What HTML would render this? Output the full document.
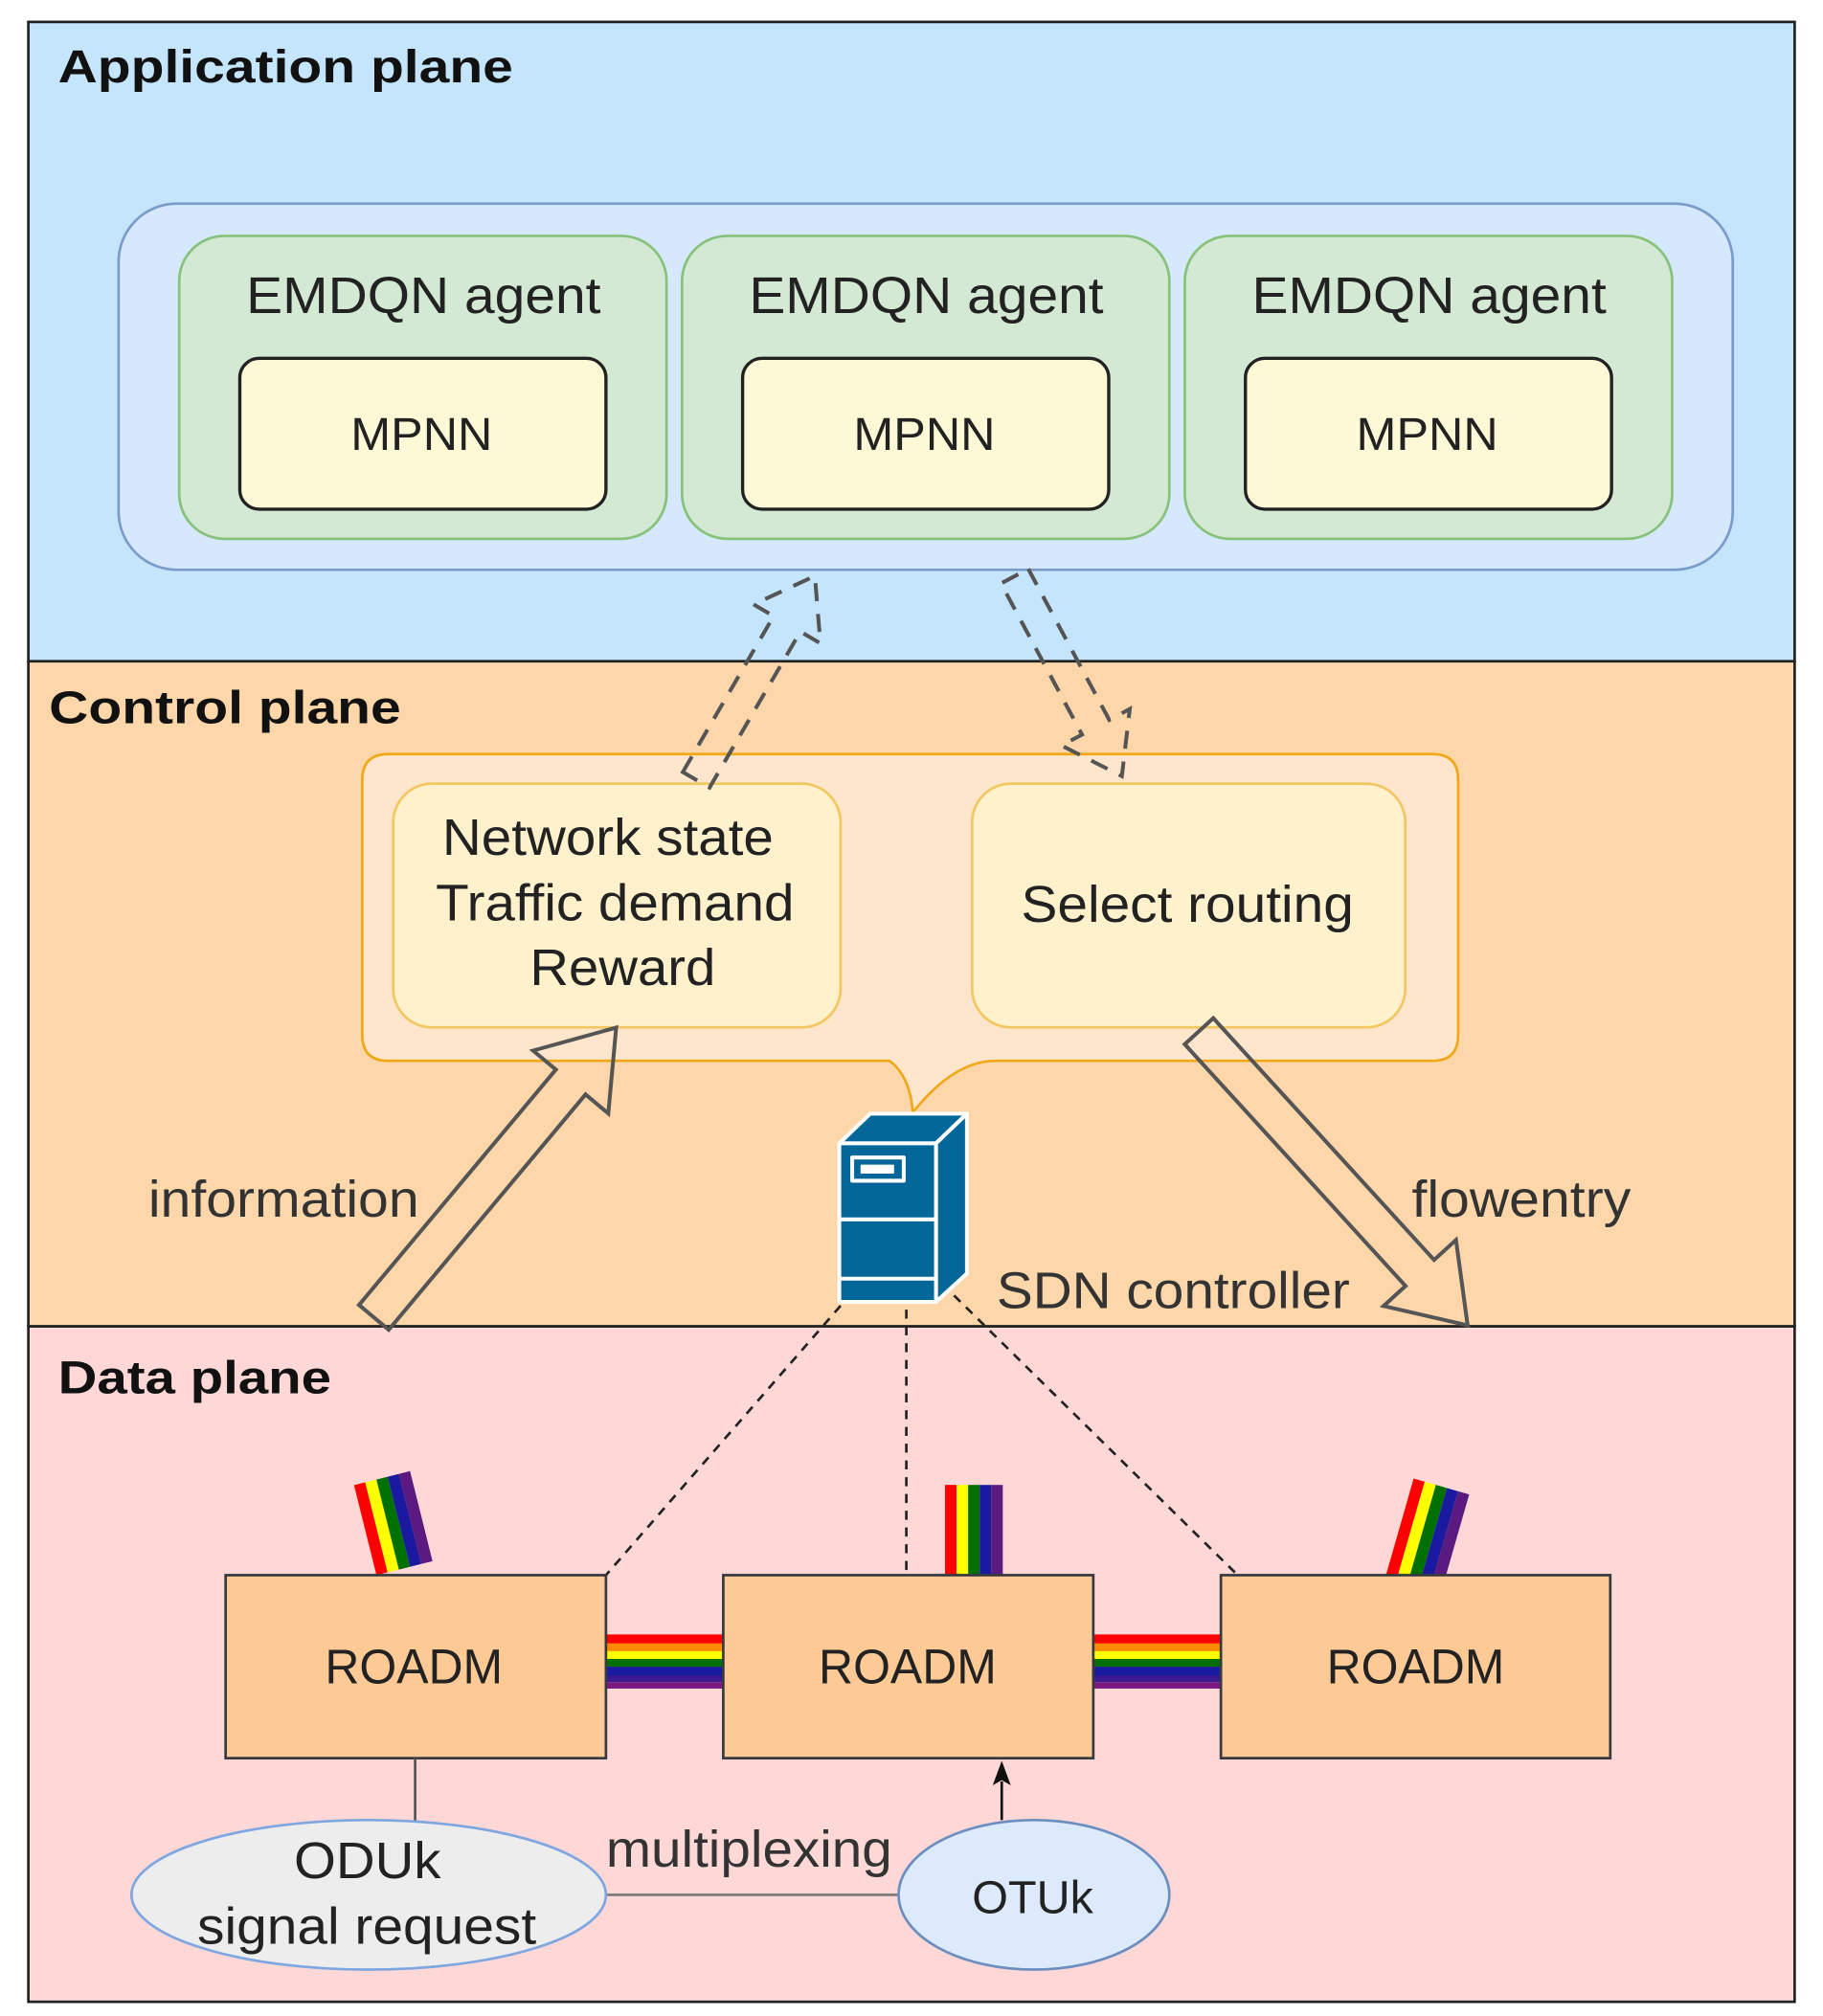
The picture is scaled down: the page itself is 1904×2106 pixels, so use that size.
<!DOCTYPE html>
<html><head><meta charset="utf-8"><style>
html,body{margin:0;padding:0;background:#fff;}
svg{display:block;}
text{font-family:"Liberation Sans",Arial,sans-serif;}
</style></head><body>
<svg width="1904" height="2106" viewBox="0 0 1414 1564" xmlns="http://www.w3.org/2000/svg">
<!-- planes -->
<rect x="22" y="17" width="1370" height="496" fill="#c4e5fc" stroke="#222" stroke-width="2"/>
<rect x="22" y="513" width="1370" height="516" fill="#fdd7aa" stroke="#222" stroke-width="2"/>
<rect x="22" y="1029" width="1370" height="524" fill="#fdd8d6" stroke="#222" stroke-width="2"/>
<g font-weight="bold" fill="#111" font-size="36" lengthAdjust="spacingAndGlyphs">
<text x="45" y="64" textLength="353" lengthAdjust="spacingAndGlyphs">Application plane</text>
<text x="38" y="561" textLength="273" lengthAdjust="spacingAndGlyphs">Control plane</text>
<text x="45" y="1081" textLength="212" lengthAdjust="spacingAndGlyphs">Data plane</text>
</g>

<!-- app plane -->
<rect x="92" y="158" width="1252" height="284" rx="45" fill="#d6e8fc" stroke="#7a9cc9" stroke-width="2"/>
<g fill="#d3e9d3" stroke="#86c27a" stroke-width="2">
<rect x="139" y="183" width="378" height="235" rx="35"/>
<rect x="529" y="183" width="378" height="235" rx="35"/>
<rect x="919" y="183" width="378" height="235" rx="35"/>
</g>
<g fill="#fdf9d6" stroke="#222" stroke-width="2.5">
<rect x="186" y="278" width="284" height="117" rx="15"/>
<rect x="576" y="278" width="284" height="117" rx="15"/>
<rect x="966" y="278" width="284" height="117" rx="15"/>
</g>
<g font-size="40" fill="#222">
<text x="191" y="243" textLength="275" lengthAdjust="spacingAndGlyphs">EMDQN agent</text>
<text x="581" y="243" textLength="275" lengthAdjust="spacingAndGlyphs">EMDQN agent</text>
<text x="971" y="243" textLength="275" lengthAdjust="spacingAndGlyphs">EMDQN agent</text>
</g>
<g font-size="36" fill="#222">
<text x="272" y="349" textLength="110" lengthAdjust="spacingAndGlyphs">MPNN</text>
<text x="662" y="349" textLength="110" lengthAdjust="spacingAndGlyphs">MPNN</text>
<text x="1052" y="349" textLength="110" lengthAdjust="spacingAndGlyphs">MPNN</text>
</g>

<!-- control container with callout -->
<path d="M301,585 H1111 Q1131,585 1131,605 V803 Q1131,823 1111,823 H772 Q740,823 708,863 Q706,835 690,823 H301 Q281,823 281,803 V605 Q281,585 301,585 Z" fill="#fee6cc" stroke="#f0a818" stroke-width="2"/>
<rect x="305" y="608" width="347" height="189" rx="30" fill="#fff1cb" stroke="#f2c660" stroke-width="2"/>
<rect x="754" y="608" width="336" height="189" rx="30" fill="#fff1cb" stroke="#f2c660" stroke-width="2"/>
<g font-size="40" fill="#222">
<text x="343" y="663" textLength="257" lengthAdjust="spacingAndGlyphs">Network state</text>
<text x="338" y="714" textLength="278" lengthAdjust="spacingAndGlyphs">Traffic demand</text>
<text x="411" y="764" textLength="144" lengthAdjust="spacingAndGlyphs">Reward</text>
<text x="792" y="715" textLength="258" lengthAdjust="spacingAndGlyphs">Select routing</text>
</g>

<!-- dashed block arrows -->
<g fill="none" stroke="#555" stroke-width="3" stroke-dasharray="14,10">
<polygon transform="translate(540,605) rotate(-59.8)" points="0,-12 140,-12 140,-30 183,0 140,30 140,12 0,12"/>
<polygon transform="translate(787,447) rotate(61.8)" points="0,-12 133,-12 133,-30 176,0 133,30 133,12 0,12"/>
</g>

<!-- solid block arrows -->
<g fill="none" stroke="#555" stroke-width="3">
<polygon transform="translate(290,1022) rotate(-50.1)" points="0,-15 238,-15 238,-38 293,0 238,38 238,15 0,15"/>
<polygon transform="translate(930,800) rotate(47.6)" points="0,-15 254,-15 254,-38 309,0 254,38 254,15 0,15"/>
</g>
<g font-size="40" fill="#333">
<text x="115" y="944" textLength="210" lengthAdjust="spacingAndGlyphs">information</text>
<text x="1095" y="944" textLength="170" lengthAdjust="spacingAndGlyphs">flowentry</text>
<text x="773" y="1015" textLength="274" lengthAdjust="spacingAndGlyphs">SDN controller</text>
</g>

<!-- server -->
<g stroke="#fff" stroke-width="3" fill="#036799" stroke-linejoin="round">
<polygon points="651,887 675,864 750,864 726,887"/>
<polygon points="726,887 750,864 750,988 726,1010"/>
<rect x="651" y="887" width="75" height="123"/>
<line x1="651" y1="946" x2="726" y2="946"/>
<line x1="651" y1="992" x2="726" y2="992"/>
<rect x="661" y="898" width="40" height="18"/>
<rect x="668" y="904" width="25" height="6" fill="#fff" stroke-width="1"/>
</g>

<!-- dashed lines to roadms -->
<g stroke="#222" stroke-width="2" stroke-dasharray="7,6" fill="none">
<line x1="652" y1="1013" x2="470" y2="1222"/>
<line x1="703" y1="1016" x2="703" y2="1222"/>
<line x1="740" y1="1005" x2="960" y2="1222"/>
</g>

<!-- rainbow stubs -->
<defs>
<g id="rb">
<rect x="0" y="0" width="7" height="10" fill="#ff0000"/>
<rect x="7" y="0" width="7" height="10" fill="#ffff00"/>
<rect x="14" y="0" width="7" height="10" fill="#007000"/>
<rect x="21" y="0" width="7" height="10" fill="#1a1aa0"/>
<rect x="28" y="0" width="7" height="10" fill="#5a1a80"/>
</g>
</defs>
<g transform="translate(733,1152) scale(1.28,7)"><use href="#rb"/></g>
<g transform="translate(292,1222) rotate(-14) translate(0,-72) scale(1.28,7.2)"><use href="#rb"/></g>
<g transform="translate(1075,1222) rotate(16) translate(0,-78) scale(1.28,7.8)"><use href="#rb"/></g>
<!-- horizontal rainbows -->
<g>
<rect x="470" y="1268" width="91" height="7" fill="#ff0000"/>
<rect x="470" y="1275" width="91" height="6" fill="#ff8c00"/>
<rect x="470" y="1281" width="91" height="6" fill="#ffff00"/>
<rect x="470" y="1287" width="91" height="6" fill="#007000"/>
<rect x="470" y="1293" width="91" height="7" fill="#1a1aa0"/>
<rect x="470" y="1300" width="91" height="5" fill="#3a1a90"/>
<rect x="470" y="1305" width="91" height="5" fill="#7a1a80"/>
<rect x="848" y="1268" width="99" height="7" fill="#ff0000"/>
<rect x="848" y="1275" width="99" height="6" fill="#ff8c00"/>
<rect x="848" y="1281" width="99" height="6" fill="#ffff00"/>
<rect x="848" y="1287" width="99" height="6" fill="#007000"/>
<rect x="848" y="1293" width="99" height="7" fill="#1a1aa0"/>
<rect x="848" y="1300" width="99" height="5" fill="#3a1a90"/>
<rect x="848" y="1305" width="99" height="5" fill="#7a1a80"/>
</g>

<!-- roadms -->
<g fill="#fdca95" stroke="#36393d" stroke-width="2">
<rect x="175" y="1222" width="295" height="142"/>
<rect x="561" y="1222" width="287" height="142"/>
<rect x="947" y="1222" width="302" height="142"/>
</g>
<g font-size="38" fill="#222">
<text x="252" y="1306" textLength="138" lengthAdjust="spacingAndGlyphs">ROADM</text>
<text x="635" y="1306" textLength="138" lengthAdjust="spacingAndGlyphs">ROADM</text>
<text x="1029" y="1306" textLength="138" lengthAdjust="spacingAndGlyphs">ROADM</text>
</g>

<!-- bottom -->
<line x1="322" y1="1364" x2="322" y2="1413" stroke="#555" stroke-width="2"/>
<line x1="470" y1="1470" x2="697" y2="1470" stroke="#777" stroke-width="2"/>
<line x1="777" y1="1412" x2="777" y2="1382" stroke="#111" stroke-width="2"/>
<polygon points="777,1366 770,1385 777,1381 784,1385" fill="#111"/>
<ellipse cx="286" cy="1470" rx="184" ry="58" fill="#ededed" stroke="#7ea6e0" stroke-width="2"/>
<ellipse cx="802" cy="1470" rx="105" ry="58" fill="#dceafc" stroke="#6c8ebf" stroke-width="2"/>
<g font-size="40" fill="#222">
<text x="228" y="1457" textLength="114" lengthAdjust="spacingAndGlyphs">ODUk</text>
<text x="153" y="1508" textLength="263" lengthAdjust="spacingAndGlyphs">signal request</text>
</g>
<text x="754" y="1484" font-size="36" fill="#222" textLength="94" lengthAdjust="spacingAndGlyphs">OTUk</text>
<text x="470" y="1448" font-size="40" fill="#333" textLength="222" lengthAdjust="spacingAndGlyphs">multiplexing</text>
</svg>
</body></html>
